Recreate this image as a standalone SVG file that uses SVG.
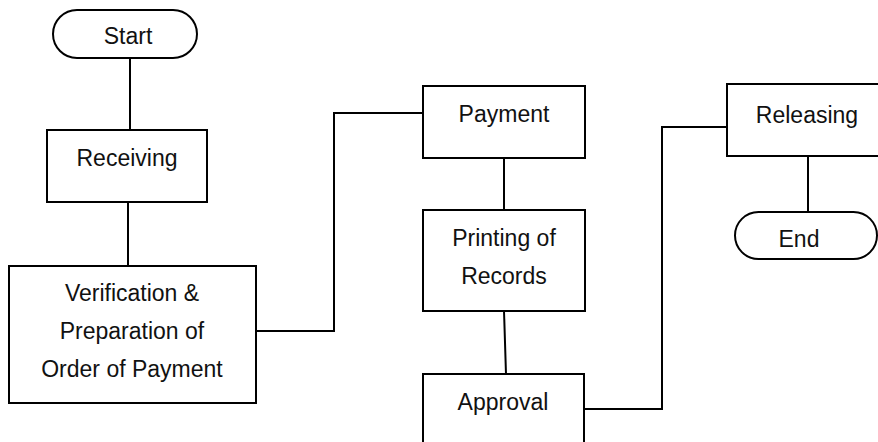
<svg xmlns="http://www.w3.org/2000/svg" width="878" height="442" viewBox="0 0 878 442">
<style>
.box{fill:#fff;stroke:#000;stroke-width:2}
.ln{fill:none;stroke:#000;stroke-width:2}
text{font-family:"Liberation Sans",Arial,sans-serif;font-size:23px;fill:#111;text-anchor:middle}
</style>
<rect width="878" height="442" fill="#fff"/>
<g id="connectors">
<path class="ln" d="M130 57V130"/>
<path class="ln" d="M128 202V266"/>
<path class="ln" d="M256 331H334V113H423"/>
<path class="ln" d="M504 158V210"/>
<path class="ln" d="M504 311L506 374"/>
<path class="ln" d="M584 409H662V127H727"/>
<path class="ln" d="M808 156V212"/>
</g>
<g id="start">
<rect class="box" x="53" y="10" width="144" height="48" rx="24"/>
<text x="128" y="44">Start</text>
</g>
<g id="receiving">
<rect class="box" x="47" y="130" width="160" height="72"/>
<text x="127" y="166">Receiving</text>
</g>
<g id="verification">
<rect class="box" x="9" y="266" width="247" height="137"/>
<text x="132" y="301">Verification &amp;</text>
<text x="132" y="339">Preparation of</text>
<text x="132" y="377">Order of Payment</text>
</g>
<g id="payment">
<rect class="box" x="423" y="86" width="162" height="72"/>
<text x="504" y="122">Payment</text>
</g>
<g id="printing">
<rect class="box" x="423" y="210" width="162" height="101"/>
<text x="504" y="246">Printing of</text>
<text x="504" y="284">Records</text>
</g>
<g id="approval">
<rect class="box" x="423" y="374" width="161" height="90"/>
<text x="503" y="410">Approval</text>
</g>
<g id="releasing">
<rect class="box" x="727" y="84" width="170" height="72"/>
<text x="807" y="123">Releasing</text>
</g>
<g id="end">
<rect class="box" x="735" y="212" width="142" height="47" rx="23.5"/>
<text x="799" y="247">End</text>
</g>
</svg>
